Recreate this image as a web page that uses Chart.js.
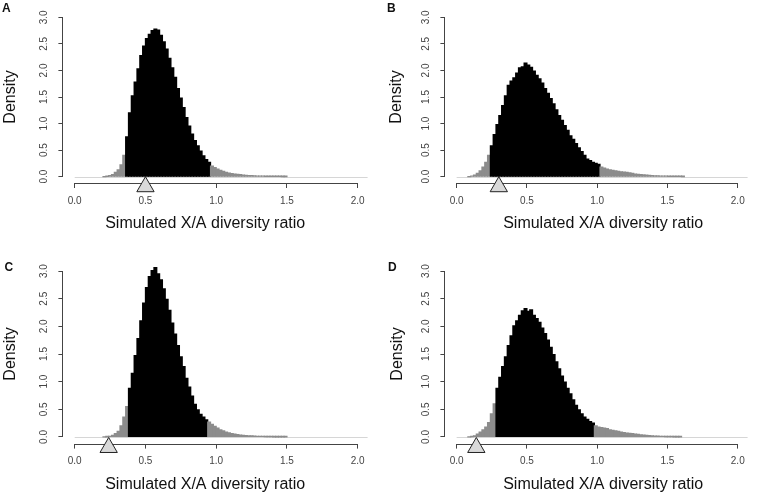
<!DOCTYPE html>
<html>
<head>
<meta charset="utf-8">
<script src="https://cdn.jsdelivr.net/npm/chart.js"></script>
<style>
    body { margin: 0; background: #fff; width: 760px; height: 496px; overflow: hidden; position: relative; }
    .panel { position: absolute; width: 380px; height: 248px; }
</style>
</head>
<body>
<div class="panel" style="left:0;top:0"><canvas id="chartA" width="380" height="248"></canvas></div>
<div class="panel" style="left:380px;top:0"><canvas id="chartB" width="380" height="248"></canvas></div>
<div class="panel" style="left:0;top:248px"><canvas id="chartC" width="380" height="248"></canvas></div>
<div class="panel" style="left:380px;top:248px"><canvas id="chartD" width="380" height="248"></canvas></div>

<script>
    // histogram bins are 0.02 wide; each list gives the density of successive bins
    const binWidth = 0.02;
    const binStart = [0.21, 0.09, 0.21, 0.09];   // centre of first bin, panels A-D

    const densA = [0, 0.005, 0.02, 0.04, 0.08, 0.13, 0.22, 0.40, 0.75, 1.20,
        1.52, 1.78, 2.03, 2.28, 2.46, 2.60, 2.68, 2.75, 2.78, 2.76,
        2.66, 2.54, 2.40, 2.23, 2.05, 1.87, 1.66, 1.48, 1.30, 1.11,
        0.95, 0.80, 0.68, 0.58, 0.48, 0.39, 0.32, 0.27, 0.20, 0.17,
        0.14, 0.12, 0.10, 0.08, 0.065, 0.055, 0.05, 0.045, 0.04, 0.03,
        0.025, 0.02, 0.018, 0.015, 0.012, 0.01, 0.008, 0.006, 0.005, 0.004,
        0.003, 0.002, 0.002, 0.001, 0.001];
    const densB = [0, 0.01, 0.03, 0.06, 0.11, 0.18, 0.27, 0.40, 0.58, 0.79,
        0.98, 1.15, 1.34, 1.52, 1.72, 1.80, 1.86, 1.95, 2.05, 2.07,
        2.14, 2.10, 2.06, 1.99, 1.91, 1.84, 1.76, 1.66, 1.57, 1.47,
        1.37, 1.26, 1.15, 1.06, 0.96, 0.87, 0.77, 0.70, 0.62, 0.54,
        0.47, 0.40, 0.33, 0.30, 0.27, 0.25, 0.23, 0.18, 0.16, 0.14,
        0.13, 0.12, 0.11, 0.10, 0.09, 0.085, 0.08, 0.07, 0.06, 0.05,
        0.045, 0.04, 0.035, 0.03, 0.025, 0.02, 0.017, 0.014, 0.011, 0.009,
        0.007, 0.005, 0.004, 0.003, 0.002, 0.002, 0.001];
    const densC = [0, 0.003, 0.01, 0.03, 0.06, 0.10, 0.20, 0.36, 0.55, 0.88,
        1.15, 1.47, 1.78, 2.10, 2.42, 2.70, 2.90, 3.01, 3.06, 2.95,
        2.84, 2.68, 2.49, 2.29, 2.06, 1.86, 1.65, 1.45, 1.27, 1.06,
        0.90, 0.74, 0.59, 0.49, 0.41, 0.36, 0.31, 0.27, 0.23, 0.19,
        0.16, 0.13, 0.11, 0.09, 0.075, 0.06, 0.05, 0.042, 0.035, 0.03,
        0.025, 0.022, 0.019, 0.016, 0.013, 0.01, 0.008, 0.006, 0.005, 0.004,
        0.003, 0.002, 0.002, 0.001, 0.001];
    const densD = [0, 0.005, 0.02, 0.05, 0.09, 0.13, 0.18, 0.26, 0.42, 0.60,
        0.88, 1.08, 1.27, 1.45, 1.65, 1.83, 2.01, 2.10, 2.20, 2.28,
        2.32, 2.27, 2.30, 2.20, 2.14, 2.07, 1.97, 1.87, 1.75, 1.62,
        1.49, 1.36, 1.23, 1.10, 0.99, 0.88, 0.78, 0.67, 0.57, 0.49,
        0.42, 0.36, 0.32, 0.28, 0.25, 0.20, 0.18, 0.17, 0.16, 0.15,
        0.13, 0.12, 0.11, 0.10, 0.09, 0.08, 0.07, 0.065, 0.06, 0.05,
        0.045, 0.04, 0.035, 0.03, 0.025, 0.02, 0.017, 0.014, 0.011, 0.009,
        0.007, 0.005, 0.004, 0.003, 0.002, 0.001];

    // central 95% interval (black bars) and observed ratio (triangle)
    const lowerCut = [0.366, 0.24, 0.379, 0.274];
    const upperCut = [0.958, 1.027, 0.938, 0.986];
    const observed = [0.50, 0.30, 0.24, 0.14];

    const panelLetters = ['A', 'B', 'C', 'D'];
    const xTickLabels = ['0.0', '0.5', '1.0', '1.5', '2.0'];
    const yTickLabels = ['0.0', '0.5', '1.0', '1.5', '2.0', '2.5', '3.0'];
    const xTitle = 'Simulated X/A diversity ratio';
    const yTitle = 'Density';

    const FONT = '"Liberation Sans", Arial, Helvetica, sans-serif';
    Chart.defaults.font.family = FONT;

    // layout of each panel inside its 380x248 canvas
    const layouts = [
        { left: 63.4, right: 3, top: 4.4, bottom: 65, yTitlePad: 1, titleShift: -11, letterX: 2, letterY: 11.7 },
        { left: 65.4, right: 1.4, top: 4.4, bottom: 65, yTitlePad: 7, titleShift: 6, letterX: 7, letterY: 12 },
        { left: 63.4, right: 3, top: 16.4, bottom: 52.4, yTitlePad: 1.4, titleShift: -11, letterX: 4.5, letterY: 23.3 },
        { left: 65.4, right: 1.4, top: 16.4, bottom: 52.4, yTitlePad: 8, titleShift: 6, letterX: 8, letterY: 23.3 }
    ];

    const axisColor = '#444';
    const tickColor = '#444';

    // R-style axes: lines only over the tick range, rotated y labels, title, panel letter
    const rStyle = {
        id: 'rstyle',
        beforeDatasetsDraw(chart, args, o) {
            const { ctx, chartArea: a, scales: { x, y } } = chart;
            ctx.save();
            ctx.lineWidth = 1;
            const y0 = Math.round(y.getPixelForValue(0)) + 0.5;
            ctx.strokeStyle = '#d6d6d6';
            ctx.beginPath();
            ctx.moveTo(x.getPixelForValue(0), y0);
            ctx.lineTo(x.getPixelForValue(2.07), y0);
            ctx.stroke();

            ctx.strokeStyle = axisColor;
            const xb = Math.round(a.bottom) + 0.5;
            ctx.beginPath();
            ctx.moveTo(x.getPixelForValue(0), xb);
            ctx.lineTo(x.getPixelForValue(2), xb);
            const yl = Math.round(a.left) - 0.5;
            ctx.moveTo(yl, y.getPixelForValue(0));
            ctx.lineTo(yl, y.getPixelForValue(3));
            ctx.stroke();
            ctx.restore();
        },
        afterDraw(chart, args, o) {
            const { ctx, chartArea: a, scales: { x, y } } = chart;
            ctx.save();
            ctx.fillStyle = tickColor;
            ctx.font = '10px ' + FONT;
            ctx.textAlign = 'center';
            ctx.textBaseline = 'middle';
            y.ticks.forEach((t, i) => {
                ctx.save();
                ctx.translate(a.left - 19, y.getPixelForValue(t.value));
                ctx.rotate(-Math.PI / 2);
                ctx.fillText(yTickLabels[i], 0, 0);
                ctx.restore();
            });

            ctx.fillStyle = '#111';
            ctx.font = '16px ' + FONT;
            const cx = (x.getPixelForValue(0) + x.getPixelForValue(2)) / 2 + o.titleShift;
            ctx.fillText(xTitle, cx, a.bottom + 41);

            ctx.textAlign = 'left';
            ctx.textBaseline = 'alphabetic';
            ctx.font = 'bold 12px ' + FONT;
            ctx.fillText(o.letter, o.letterX, o.letterY);
            ctx.restore();
        }
    };

    function makePanel(id, k) {
        const L = layouts[k];
        const dens = [densA, densB, densC, densD][k];
        const points = dens.map((d, i) => ({ x: +(binStart[k] + i * binWidth).toFixed(3), y: d }));
        const colors = points.map(p => (p.x >= lowerCut[k] && p.x <= upperCut[k]) ? '#000000' : '#8c8c8c');

        new Chart(document.getElementById(id), {
            type: 'bar',
            data: {
                datasets: [
                    {
                        type: 'scatter',
                        data: [{ x: observed[k], y: -0.19 }],
                        pointStyle: 'triangle',
                        radius: 10,
                        backgroundColor: '#d9d9d9',
                        borderColor: '#222',
                        borderWidth: 1,
                        clip: false,
                        order: 0
                    },
                    {
                        type: 'bar',
                        data: points,
                        backgroundColor: colors,
                        borderWidth: 0,
                        inflateAmount: 0.6,
                        grouped: false,
                        barPercentage: 1,
                        categoryPercentage: 1,
                        order: 1
                    }
                ]
            },
            options: {
                responsive: false,
                animation: false,
                events: [],
                layout: { padding: { left: 0, top: L.top, right: L.right, bottom: 0 } },
                plugins: {
                    legend: { display: false },
                    tooltip: { enabled: false },
                    rstyle: { letter: panelLetters[k], letterX: L.letterX, letterY: L.letterY, titleShift: L.titleShift }
                },
                scales: {
                    x: {
                        type: 'linear',
                        min: -0.08,
                        max: 2.08,
                        offset: false,
                        grid: { offset: false, drawOnChartArea: false, drawTicks: true, tickLength: 5, color: axisColor },
                        border: { display: false },
                        ticks: {
                            stepSize: 0.5,
                            includeBounds: false,
                            autoSkip: false,
                            maxRotation: 0,
                            padding: 7,
                            color: tickColor,
                            font: { size: 10 },
                            callback: (v, i) => xTickLabels[i]
                        },
                        afterFit: s => { s.height = L.bottom; }
                    },
                    y: {
                        min: -0.12,
                        max: 3.12,
                        grid: { drawOnChartArea: false, drawTicks: true, tickLength: 5, color: axisColor },
                        border: { display: false },
                        ticks: { stepSize: 0.5, includeBounds: false, display: false },
                        title: {
                            display: true,
                            text: yTitle,
                            color: '#111',
                            font: { size: 16 },
                            padding: { top: L.yTitlePad, bottom: 0 }
                        },
                        afterFit: s => { s.width = L.left; }
                    }
                }
            },
            plugins: [rStyle]
        });
    }

    makePanel('chartA', 0);
    makePanel('chartB', 1);
    makePanel('chartC', 2);
    makePanel('chartD', 3);
</script>
</body>
</html>
